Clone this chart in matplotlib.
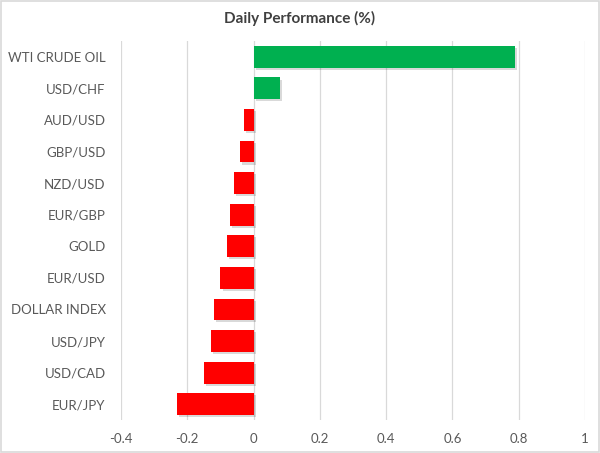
import matplotlib
matplotlib.use("Agg")
import matplotlib.pyplot as plt
import matplotlib.patheffects as pe
from matplotlib.patches import Rectangle

categories = ["WTI CRUDE OIL", "USD/CHF", "AUD/USD", "GBP/USD", "NZD/USD", "EUR/GBP",
              "GOLD", "EUR/USD", "DOLLAR INDEX", "USD/JPY", "USD/CAD", "EUR/JPY"]
values = [0.79, 0.08, -0.03, -0.04, -0.06, -0.07, -0.08, -0.10, -0.12, -0.13, -0.15, -0.23]
xticks = [-0.4, -0.2, 0, 0.2, 0.4, 0.6, 0.8, 1]
xticklabels = ["-0.4", "-0.2", "0", "0.2", "0.4", "0.6", "0.8", "1"]
title = "Daily Performance (%)"

plt.rcParams['font.family'] = ['Lato', 'DejaVu Sans']

fig = plt.figure(figsize=(6, 4.53), dpi=100)
ax = fig.add_axes([0.2017, 0.0728, 0.7733, 0.8367])

colors = ["#00B050" if v >= 0 else "#FF0000" for v in values]
ypos = list(range(len(categories)))
bars = ax.barh(ypos, values, height=0.69, color=colors, zorder=3)
for b in bars:
    b.set_path_effects([pe.SimplePatchShadow(offset=(1.5, -1.5), shadow_rgbFace="#000000", alpha=0.15), pe.Normal()])

ax.set_ylim(len(categories) - 0.5, -0.5)
ax.set_yticks(ypos)
ax.set_yticklabels(categories, fontsize=9.5, color="#595959")
ax.set_xlim(-0.4, 1)
ax.set_xticks(xticks)
ax.set_xticklabels(xticklabels, fontsize=9.5, color="#595959")
ax.tick_params(axis='y', length=0, pad=11)
ax.tick_params(axis='x', length=0, pad=9)
ax.grid(axis='x', color="#D9D9D9", linewidth=0.9, zorder=0)
for s in ax.spines.values():
    s.set_visible(False)

fig.text(0.5, 1 - 18 / 453, title, ha='center', va='center', fontsize=11,
         fontweight='bold', color="#404040")

fig.patches.append(Rectangle((0.002, 0.002), 0.996, 0.996, transform=fig.transFigure,
                             fill=False, edgecolor="#D9D9D9", linewidth=1.2))

fig.savefig("out.png", dpi=100)
